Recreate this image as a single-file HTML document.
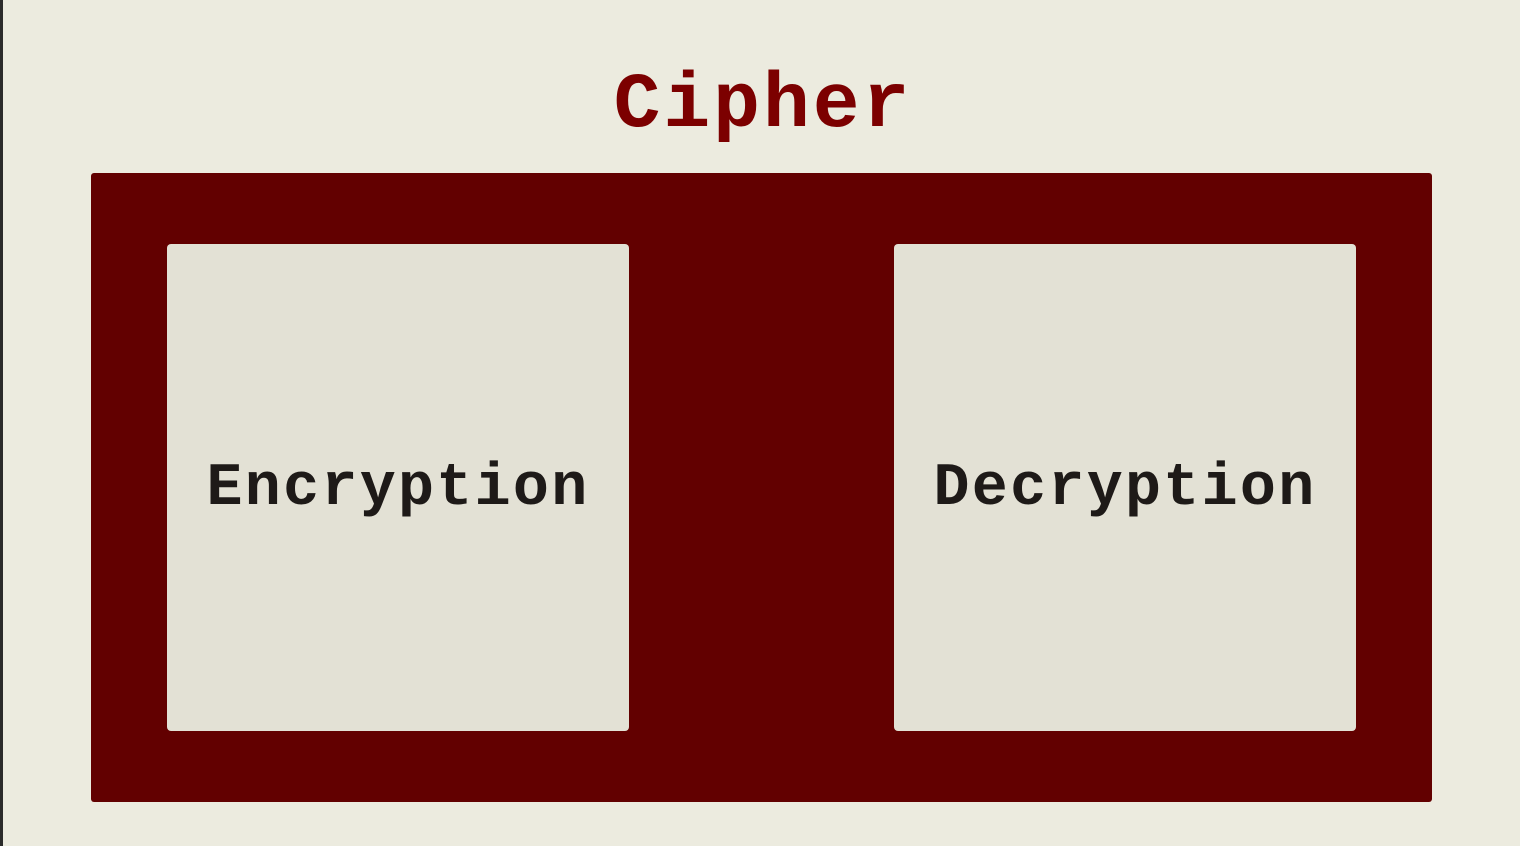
<!DOCTYPE html>
<html><head><style>
html,body{margin:0;padding:0}
body{width:1520px;height:846px;background:#ecebdf;position:relative;overflow:hidden;font-family:"Liberation Mono",monospace}
.strip{position:absolute;left:0;top:0;width:3px;height:846px;background:#2b2b2b}
.title{position:absolute;left:0;width:1520px;top:56px;text-align:center;font-size:78px;letter-spacing:3px;font-weight:bold;color:#7c0000;line-height:100px;padding-left:6px;box-sizing:border-box}
.outer{position:absolute;left:91px;top:173px;width:1341px;height:629px;background:#620000;border-radius:3px}
.box{position:absolute;top:244px;width:462px;height:487px;background:#e3e1d5;border-radius:4px;display:flex;align-items:center;justify-content:center;font-size:60px;letter-spacing:2.3px;font-weight:bold;color:#1e1a18;padding-top:2px;box-sizing:border-box}
</style></head><body>
<div class="strip"></div>
<div class="title">Cipher</div>
<div class="outer"></div>
<div class="box" style="left:167px">Encryption</div>
<div class="box" style="left:894px">Decryption</div>
</body></html>
